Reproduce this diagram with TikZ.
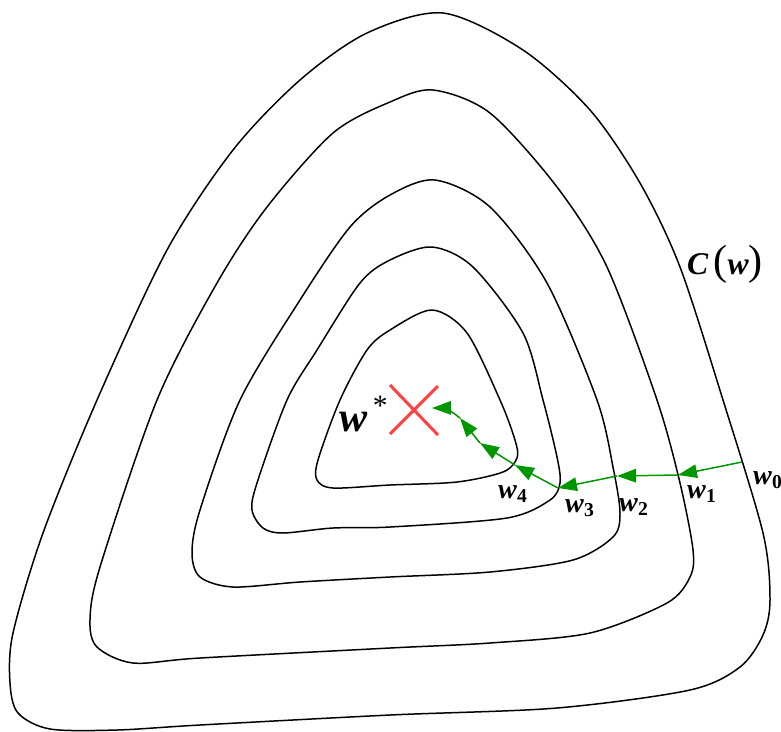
\documentclass[tikz,border=0pt]{standalone}
\usepackage{fontspec}
\setmainfont{Liberation Serif}
\usetikzlibrary{arrows.meta}

\definecolor{stepgreen}{RGB}{0,150,0}
\definecolor{optred}{RGB}{255,64,64}

\newcommand{\wlab}[1]{\textbf{\textit{w}\textsubscript{\upshape #1}}}

\tikzset{
  contour/.style={black, line width=0.85pt},
  gdarrow/.style={stepgreen, line width=0.85pt,
    -{Triangle[length=0.38cm, width=0.27cm]}},
  wlabel/.style={inner sep=0pt, font=\fontsize{16}{19}\selectfont}
}

\begin{document}
\begin{tikzpicture}[x=0.02cm, y=-0.02cm]
            \useasboundingbox (0,0) rectangle (781,731);

            % Contours
            \draw[contour] plot[smooth cycle] coordinates {(443,13) (523,50) (590,110) (640,183) (680,267) (723,400) (763,533) (770,600) (763,635) (740,667) (690,690) (557,708) (390,715) (200,725) (117,730) (50,729) (18,713) (10,683) (13,633) (43,533) (97,400) (167,250) (233,150) (300,80) (367,33)};
            \draw[contour] plot[smooth cycle] coordinates {(433,90) (490,113) (557,187) (607,267) (657,400) (680,483) (693,550) (690,577) (667,603) (590,633) (490,643) (390,648) (200,658) (133,663) (97,647) (90,620) (100,567) (157,400) (217,283) (267,207) (333,133) (390,102)};
            \draw[contour] plot[smooth cycle] coordinates {(435,180) (490,207) (547,283) (597,400) (613,467) (620,513) (613,537) (573,560) (490,572) (390,577) (300,582) (233,587) (200,577) (192,553) (200,510) (240,400) (300,300) (350,227) (390,195)};
            \draw[contour] plot[smooth cycle] coordinates {(432,247) (473,267) (523,333) (543,400) (557,457) (560,483) (550,500) (507,518) (390,527) (333,528) (283,533) (263,528) (252,510) (257,483) (287,400) (317,350) (360,283) (390,260)};
            \draw[contour] plot[smooth cycle] coordinates {(432,310) (467,333) (500,400) (515,440) (517,458) (503,472) (457,482) (390,485) (333,488) (317,480) (318,460) (340,400) (367,350) (390,330)};

            % Steps
            \coordinate (p0) at (742,462);
            \coordinate (p1) at (678,475);
            \coordinate (p2) at (617,476);
            \coordinate (p3) at (558,488);
            \coordinate (p4) at (515,465);
            \coordinate (p5) at (480,443);
            \coordinate (p6) at (460,418);
            \coordinate (p7) at (432,408);

            \draw[gdarrow] (p0) -- (p1);
            \draw[gdarrow] (p1) -- (p2);
            \draw[gdarrow] (p2) -- (p3);
            \draw[gdarrow] (p3) -- (p4);
            \draw[gdarrow] (p4) -- (p5);
            \draw[gdarrow] (p5) -- (p6);
            \draw[gdarrow] (p6) to[bend right=20] (p7);

            % Labels
            \node[wlabel] (w0) at (768,480) {\wlab{0}};
            \node[wlabel] (w1) at (702,494) {\wlab{1}};
            \node[wlabel] (w2) at (634,507) {\wlab{2}};
            \node[wlabel] (w3) at (580,508) {\wlab{3}};
            \node[wlabel] (w4) at (513,494) {\wlab{4}};
            \node[inner sep=0pt, font=\fontsize{18}{21}\selectfont] (cw) at (725,264)
              {\textbf{\textit{C}}\,{\fontsize{24}{26}\selectfont(}\textbf{\textit{w}}{\fontsize{24}{26}\selectfont)}};
            \node[inner sep=0pt, font=\fontsize{24}{28}\selectfont] (wopt) at (364,414)
              {\textbf{\textit{w}}\textsuperscript{\,*}};

            % Minimum
            \coordinate (m1) at (390,385);
            \coordinate (m2) at (438,435);
            \coordinate (m3) at (438,386);
            \coordinate (m4) at (390,434);
            \draw[optred, line width=1.7pt] (m1) -- (m2);
            \draw[optred, line width=1.7pt] (m3) -- (m4);
\end{tikzpicture}
\end{document}
